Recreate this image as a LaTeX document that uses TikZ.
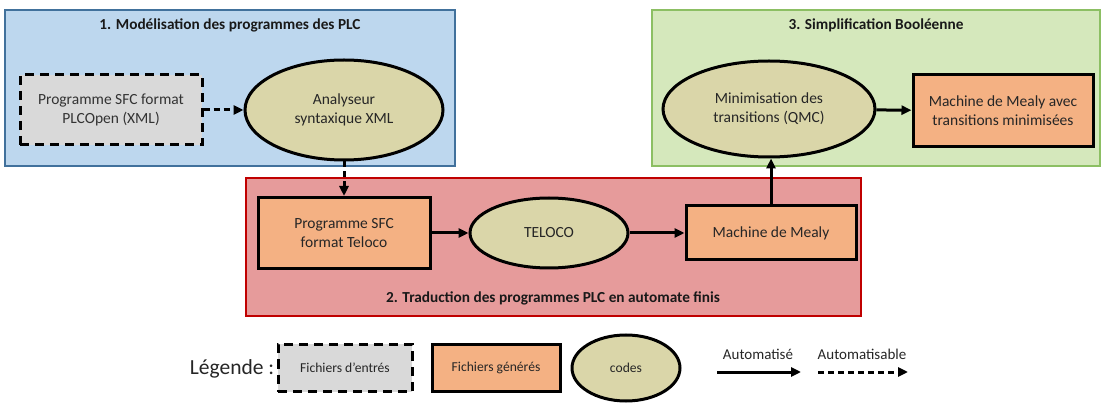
\documentclass[tikz,border=0pt]{standalone}
\usepackage{fontspec}
\setmainfont{Carlito}
\usetikzlibrary{arrows.meta,shapes.geometric}
\definecolor{bluefill}{HTML}{BDD7EE}
\definecolor{blueline}{HTML}{41719C}
\definecolor{redfill}{HTML}{E69B9B}
\definecolor{redline}{HTML}{C00000}
\definecolor{greenfill}{HTML}{D5E8BC}
\definecolor{greenline}{HTML}{8CBF63}
\definecolor{grayfill}{HTML}{D9D9D9}
\definecolor{orangefill}{HTML}{F4B183}
\definecolor{khaki}{HTML}{DAD6A9}
\tikzset{
  zone/.style={draw=#1, line width=1.2pt, inner sep=0pt},
  inbox/.style={draw=black, fill=grayfill, line width=3pt, dash pattern=on 9pt off 6pt, inner sep=0pt, align=center, font=\fontsize{15.5}{19}\selectfont, text=black!80},
  genbox/.style={draw=black, fill=orangefill, line width=3pt, inner sep=0pt, align=center, font=\fontsize{15.5}{19}\selectfont, text=black!85},
  codeell/.style={ellipse, draw=black, fill=khaki, line width=3pt, inner sep=0pt, align=center, font=\fontsize{15.5}{19}\selectfont, text=black!85},
  title/.style={font=\bfseries\fontsize{15.3}{18}\selectfont, text=black!90},
  arr/.style={line width=3pt, -{Triangle[length=10pt,width=9pt]}},
  darr/.style={arr, dash pattern=on 6pt off 4pt},
  leg/.style={font=\fontsize{13.6}{16}\selectfont, text=black!85},
  legl/.style={font=\fontsize{15}{18}\selectfont, text=black!85}
}
\begin{document}
\begin{tikzpicture}[x=1pt,y=-1pt]
\useasboundingbox (0,0) rectangle (1106,403);
% zones
\node[zone=blueline, fill=bluefill, minimum width=450pt, minimum height=156pt] (z1) at (230,88) {};
\node[zone=redline, fill=redfill, minimum width=615pt, minimum height=138pt] (z2) at (553.5,247) {};
\node[zone=greenline, fill=greenfill, minimum width=448pt, minimum height=156pt] (z3) at (876,88) {};
\node[title] (t1) at (230,25) {1. Modélisation des programmes des PLC};
\node[title] (t2) at (553,298) {2. Traduction des programmes PLC en automate finis};
\node[title] (t3) at (876,25) {3. Simplification Booléenne};
% zone 1
\node[inbox, minimum width=182pt, minimum height=70pt] (plc) at (111,110) {Programme SFC format\\PLCOpen (XML)};
\node[codeell, minimum width=198pt, minimum height=100pt] (ana) at (344,110) {Analyseur\\syntaxique XML};
% zone 2
\node[genbox, minimum width=172pt, minimum height=71pt] (sfc) at (344,233) {Programme SFC\\format Teloco};
\node[codeell, minimum width=158pt, minimum height=70pt] (tel) at (549,233) {TELOCO};
\node[genbox, minimum width=170pt, minimum height=54pt] (mea) at (771,233) {Machine de Mealy};
% zone 3
\node[codeell, minimum width=212pt, minimum height=96pt] (min) at (769,109) {Minimisation des\\transitions (QMC)};
\node[genbox, minimum width=180pt, minimum height=72pt] (mmin) at (1003,111) {Machine de Mealy avec\\transitions minimisées};
% connectors
\draw[darr] (plc) -- (ana);
\draw[darr] (ana.south) -- (sfc.north);
\draw[arr] (sfc) -- (tel);
\draw[arr] (tel) -- (mea);
\draw[arr] (mea.north) -- (mea.north |- min.south);
\draw[arr] (min) -- (mmin);
% legend
\node[font=\fontsize{21.5}{24}\selectfont, text=black!85] (legt) at (232,369) {Légende :};
\node[inbox, leg, minimum width=134pt, minimum height=47pt] (l1) at (345,368) {Fichiers d’entrés};
\node[genbox, leg, minimum width=128pt, minimum height=47pt] (l2) at (496,368) {Fichiers générés};
\node[codeell, leg, minimum width=108pt, minimum height=66pt] (l3) at (626,368) {codes};
\coordinate (a1s) at (717,372);
\coordinate (a1e) at (801,372);
\coordinate (a2s) at (818,372);
\coordinate (a2e) at (908,372);
\draw[arr] (a1s) -- (a1e);
\draw[darr] (a2s) -- (a2e);
\node[legl] (lt1) at (758,354) {Automatisé};
\node[legl] (lt2) at (862,354) {Automatisable};
\end{tikzpicture}
\end{document}
